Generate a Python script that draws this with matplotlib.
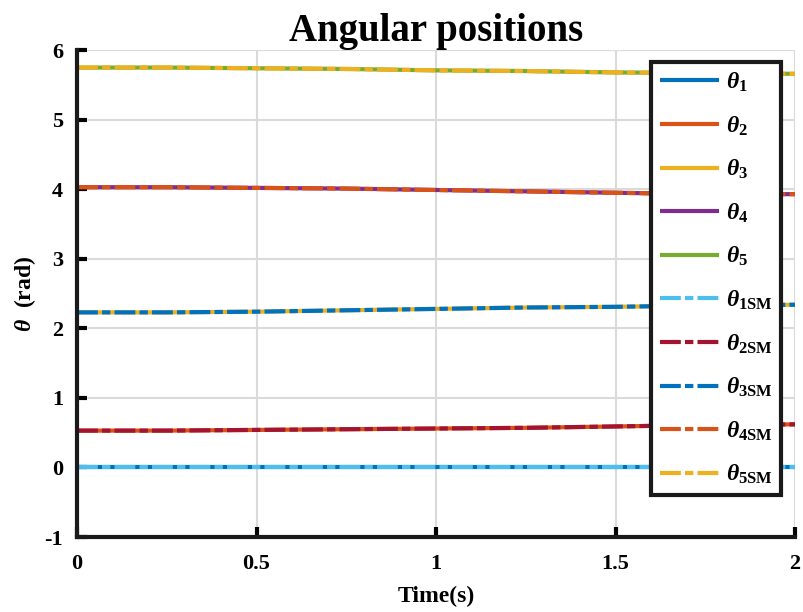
import matplotlib
matplotlib.use("Agg")
import matplotlib.pyplot as plt
import numpy as np

plt.rcParams['font.family'] = ['Liberation Serif', 'DejaVu Serif']
plt.rcParams['mathtext.fontset'] = 'custom'
plt.rcParams['mathtext.rm'] = 'Liberation Serif:bold'
plt.rcParams['mathtext.it'] = 'Liberation Serif:italic:bold'
plt.rcParams['mathtext.bf'] = 'Liberation Serif:bold'
plt.rcParams['axes.unicode_minus'] = False

t = [0.0, 0.25, 0.5, 0.75, 1.0, 1.25, 1.5, 1.75, 2.0]
theta1 = [0.0, 0.0, 0.0, 0.0, 0.0, 0.0, 0.0, 0.0, 0.0]
theta2 = [0.53, 0.53, 0.54, 0.55, 0.56, 0.57, 0.59, 0.61, 0.62]
theta3 = [2.23, 2.23, 2.24, 2.26, 2.28, 2.30, 2.31, 2.33, 2.34]
theta4 = [4.03, 4.03, 4.02, 4.01, 3.99, 3.97, 3.95, 3.93, 3.93]
theta5 = [5.75, 5.75, 5.74, 5.73, 5.71, 5.70, 5.68, 5.67, 5.66]
# sliding-mode estimates (overlap the actual trajectories)
theta1SM = list(theta1)
theta2SM = list(theta2)
theta3SM = list(theta3)
theta4SM = list(theta4)
theta5SM = list(theta5)

solid_colors = ['#0072BD', '#D95319', '#EDB120', '#7E2F8E', '#77AC30']
sm_colors = ['#4DBEEE', '#A2142F', '#0072BD', '#D95319', '#EDB120']
solid_labels = [r'$\theta_{\mathbf{1}}$', r'$\theta_{\mathbf{2}}$', r'$\theta_{\mathbf{3}}$',
                r'$\theta_{\mathbf{4}}$', r'$\theta_{\mathbf{5}}$']
sm_labels = [r'$\theta_{\mathbf{1SM}}$', r'$\theta_{\mathbf{2SM}}$', r'$\theta_{\mathbf{3SM}}$',
             r'$\theta_{\mathbf{4SM}}$', r'$\theta_{\mathbf{5SM}}$']

fig = plt.figure(figsize=(8.04, 6.12), dpi=100)
ax = fig.add_axes([0.0958, 0.1225, 0.893, 0.7955])

for y, c, lab in zip([theta1, theta2, theta3, theta4, theta5], solid_colors, solid_labels):
    ax.plot(t, y, color=c, lw=3, label=lab, solid_capstyle='butt')
for y, c, lab in zip([theta1SM, theta2SM, theta3SM, theta4SM, theta5SM], sm_colors, sm_labels):
    ax.plot(t, y, color=c, lw=3, ls=(0, (5, 1, 2, 1)), label=lab)

ax.set_xlim(0, 2)
ax.set_ylim(-1, 6)
ax.set_xticks([0, 0.5, 1, 1.5, 2])
ax.set_xticklabels(['0', '0.5', '1', '1.5', '2'])
ax.set_yticks([-1, 0, 1, 2, 3, 4, 5, 6])
ax.grid(True, color='#dadada', lw=1.5)
ax.set_axisbelow(True)
for s in ['top', 'right']:
    ax.spines[s].set_visible(False)
for s in ['left', 'bottom']:
    ax.spines[s].set_linewidth(3)
    ax.spines[s].set_color('#1a1a1a')
ax.tick_params(axis='x', direction='in', length=7, width=3, labelsize=16, pad=12)
ax.tick_params(axis='y', direction='in', length=7, width=3, labelsize=16, pad=10)
for lbl in ax.get_xticklabels() + ax.get_yticklabels():
    lbl.set_fontweight('bold')

ax.set_title('Angular positions', fontsize=28, fontweight='bold', pad=4)
ax.set_xlabel('Time(s)', fontsize=17, fontweight='bold', labelpad=9)
ax.set_ylabel(r'$\theta$  (rad)', fontsize=17, fontweight='bold', labelpad=5)

leg = ax.legend(loc='upper right', bbox_to_anchor=(0.98, 0.975), fontsize=17,
                frameon=True, fancybox=False, handlelength=2.5, handletextpad=0.3,
                labelspacing=0.86, borderpad=0.35, borderaxespad=0)
leg.get_frame().set_edgecolor('#1a1a1a')
leg.get_frame().set_linewidth(3)
leg.get_frame().set_alpha(1)

fig.savefig('out.png', dpi=100)
